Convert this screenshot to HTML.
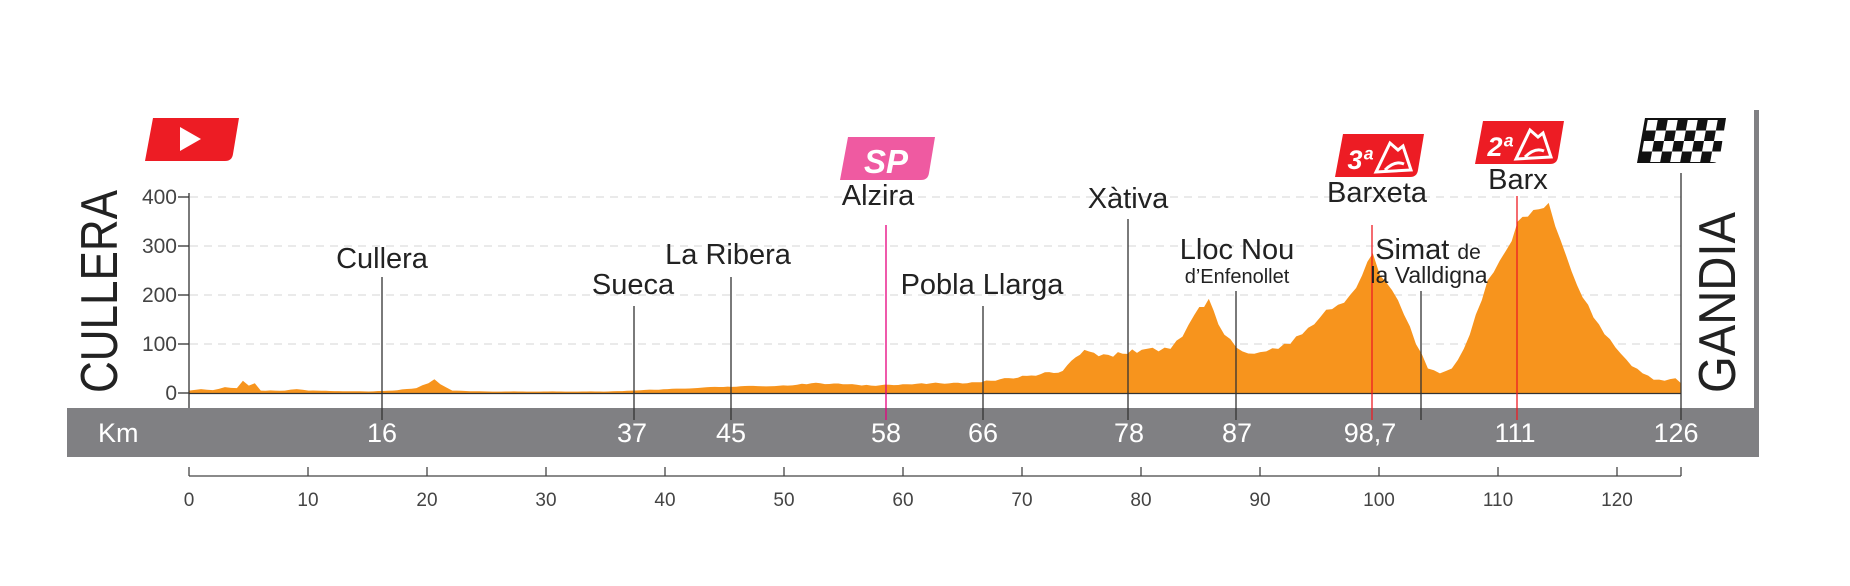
<!DOCTYPE html>
<html><head><meta charset="utf-8">
<style>
html,body{margin:0;padding:0;background:#fff;}
svg{display:block;}
text{font-family:"Liberation Sans",sans-serif;}
</style></head>
<body>
<svg id="s" width="1850" height="586" viewBox="0 0 1850 586" xmlns="http://www.w3.org/2000/svg">
<g stroke="#ddd" stroke-width="1.3" stroke-dasharray="8,6">
<line x1="190" y1="197" x2="1681" y2="197"/>
<line x1="190" y1="246" x2="1681" y2="246"/>
<line x1="190" y1="295" x2="1681" y2="295"/>
<line x1="190" y1="344" x2="1681" y2="344"/>
</g>
<polygon id="prof" fill="#f7941d" points=""/>
<line x1="189" y1="193" x2="189" y2="420" stroke="#333" stroke-width="1.3"/>
<line x1="189" y1="393.5" x2="1681" y2="393.5" stroke="#333" stroke-width="1.3"/>
<g stroke="#333" stroke-width="1.3">
<line x1="178" y1="197" x2="189" y2="197"/><line x1="178" y1="246" x2="189" y2="246"/>
<line x1="178" y1="295" x2="189" y2="295"/><line x1="178" y1="344" x2="189" y2="344"/>
<line x1="178" y1="393" x2="189" y2="393"/>
</g>
<g font-size="21" fill="#444" text-anchor="end">
<text x="177" y="204">400</text><text x="177" y="253">300</text><text x="177" y="302">200</text><text x="177" y="351">100</text><text x="177" y="400">0</text>
</g>
<rect x="67" y="408" width="1692" height="49" fill="#808083"/>
<rect x="1754" y="110" width="5" height="300" fill="#808083"/>
<g stroke="#333" stroke-width="1.3">
<line x1="382" y1="277" x2="382" y2="420"/>
<line x1="634" y1="306" x2="634" y2="420"/>
<line x1="731" y1="277" x2="731" y2="420"/>
<line x1="983" y1="306" x2="983" y2="420"/>
<line x1="1128" y1="219" x2="1128" y2="420"/>
<line x1="1236" y1="291" x2="1236" y2="420"/>
<line x1="1421" y1="291" x2="1421" y2="420"/>
<line x1="1681" y1="173" x2="1681" y2="420"/>
</g>
<line x1="886" y1="225" x2="886" y2="420" stroke="#e6007e" stroke-width="1.3"/>
<line x1="1372" y1="225" x2="1372" y2="420" stroke="#ed1c24" stroke-width="1.3"/>
<line x1="1517" y1="196" x2="1517" y2="420" stroke="#ed1c24" stroke-width="1.3"/>
<g font-size="29" fill="#222" text-anchor="middle">
<text x="382" y="268">Cullera</text>
<text x="633" y="294">Sueca</text>
<text x="728" y="264">La Ribera</text>
<text x="878" y="205">Alzira</text>
<text x="982" y="294">Pobla Llarga</text>
<text x="1128" y="208">Xàtiva</text>
<text x="1237" y="259">Lloc Nou</text>
<text x="1237" y="283" font-size="20">d’Enfenollet</text>
<text x="1377" y="202">Barxeta</text>
<text x="1518" y="189">Barx</text>
<text x="1428" y="259">Simat <tspan font-size="21">de</tspan></text>
<text x="1429" y="283" font-size="23">la Valldigna</text>
</g>
<g font-size="27" fill="#fff" text-anchor="middle">
<text x="98" y="442" text-anchor="start">Km</text>
<text x="382" y="442">16</text><text x="632" y="442">37</text><text x="731" y="442">45</text>
<text x="886" y="442">58</text><text x="983" y="442">66</text><text x="1129" y="442">78</text>
<text x="1237" y="442">87</text><text x="1370" y="442">98,7</text><text x="1515" y="442">111</text>
<text x="1676" y="442">126</text>
</g>
<text transform="translate(117,393) rotate(-90)" font-size="52" fill="#222" textLength="203" lengthAdjust="spacingAndGlyphs">CULLERA</text>
<text transform="translate(1735,393) rotate(-90)" font-size="52" fill="#222" textLength="181" lengthAdjust="spacingAndGlyphs">GANDIA</text>
<g id="bax" stroke="#444" stroke-width="1.3"><line x1="189" y1="476" x2="1681" y2="476"/></g>
<g id="baxt" font-size="19" fill="#444" text-anchor="middle"></g>
<path d="M153,118 H239 L233,154 Q232,161 225,161 H145 Z" fill="#ed1c24"/>
<polygon points="180,127 180,151 201,139" fill="#fff"/>
<path d="M848,137 H935 L929,173 Q928,180 921,180 H840 Z" fill="#ef5aa1"/>
<text x="886" y="173" font-size="33" font-weight="bold" font-style="italic" fill="#fff" text-anchor="middle">SP</text>
<path d="M1343,134 H1424 L1418,170 Q1417,177 1410,177 H1335 Z" fill="#ed1c24"/>
<text x="1360" y="169" font-size="27" font-weight="bold" font-style="italic" fill="#fff" text-anchor="middle">3ª</text>
<path d="M1376,172 L1390,143 L1398,150 L1403,146 L1411,170 Z M1385,170 Q1395,160 1404,164" fill="none" stroke="#fff" stroke-width="3"/>
<path d="M1483,121 H1564 L1558,157 Q1557,164 1550,164 H1475 Z" fill="#ed1c24"/>
<text x="1500" y="156" font-size="27" font-weight="bold" font-style="italic" fill="#fff" text-anchor="middle">2ª</text>
<path d="M1516,159 L1530,130 L1538,137 L1543,133 L1551,157 Z M1525,157 Q1535,147 1544,151" fill="none" stroke="#fff" stroke-width="3"/>
<g id="flag"></g>
</svg>
<script>
var NS="http://www.w3.org/2000/svg";
function X(k){return k<=111?189+k*11.97:1517+(k-111)*(164/15);}
var d=[[0,5],[1,8],[2,6],[3,12],[4,10],[4.5,25],[5,15],[5.5,20],[6,5],[8,5],[9,8],[10,5],[15,3],[17,5],[19,10],[20,20],[20.5,28],[21,18],[22,5],[25,3],[35,3],[37,5],[40,8],[45,13],[50,15],[52,20],[55,18],[57,15],[60,18],[62,20],[65,20],[67,25],[70,35],[73,45],[74.8,88],[76,75],[78,80],[80,90],[81,85],[82,90],[83,115],[84,160],[85.2,192],[86,140],[87,110],[88,85],[89,80],[90,85],[91,90],[92,100],[93,120],[94,140],[95,170],[96,180],[97,200],[98,240],[98.9,285],[99.5,240],[100.5,210],[101.5,160],[102.5,100],[103.5,50],[104.5,40],[105.5,50],[106.5,90],[107.5,160],[108.5,230],[109.5,270],[110.5,310],[111,350],[112,360],[113,375],[113.9,388],[114.5,340],[115.5,280],[116.5,220],[117.5,180],[118.5,140],[119.5,110],[120.5,80],[121.5,55],[122.5,40],[123.5,27],[124.5,25],[125.5,30],[126,20]];
var p=["189,393"];
for(var i=0;i<d.length;i++){p.push(X(d[i][0]).toFixed(1)+","+(393-d[i][1]*0.49).toFixed(1));
if(i<d.length-1){var a=d[i],b=d[i+1];var n=Math.floor((b[0]-a[0])/0.35);for(var j=1;j<n;j++){var t=j/n;var k=a[0]+t*(b[0]-a[0]);var e=a[1]+t*(b[1]-a[1]);e+=Math.sin(k*37.1)*Math.min(6,e*0.06);p.push(X(k).toFixed(1)+","+(393-Math.max(1,e)*0.49).toFixed(1));}}}
p.push("1681,393");
document.getElementById("prof").setAttribute("points",p.join(" "));
var bx=document.getElementById("bax"),bt=document.getElementById("baxt");
function bX(k){return 189+k*11.9;}
for(var k=0;k<=120;k+=10){var l=document.createElementNS(NS,"line");l.setAttribute("x1",bX(k));l.setAttribute("x2",bX(k));l.setAttribute("y1",467);l.setAttribute("y2",476);bx.appendChild(l);
var t=document.createElementNS(NS,"text");t.setAttribute("x",bX(k));t.setAttribute("y",506);t.textContent=k;bt.appendChild(t);}
var l=document.createElementNS(NS,"line");l.setAttribute("x1",1681);l.setAttribute("x2",1681);l.setAttribute("y1",467);l.setAttribute("y2",476);bx.appendChild(l);
var f=document.getElementById("flag");
var bg=document.createElementNS(NS,"path");bg.setAttribute("d","M1645,118 H1726 L1720,156 Q1719,163 1712,163 H1637 Z");bg.setAttribute("fill","#111");f.appendChild(bg);
for(var r=0;r<4;r++)for(var c=0;c<8;c++){if((r+c)%2==0){var y0=120+r*10.5,sh=(163-y0)*0.18;var q=document.createElementNS(NS,"polygon");
var x0=1640+c*10+sh;q.setAttribute("points",[x0,y0,x0+10,y0,x0+10-1.9,y0+10.5,x0-1.9,y0+10.5].join(","));q.setAttribute("fill","#fff");f.appendChild(q);}}
</script>
</body></html>
